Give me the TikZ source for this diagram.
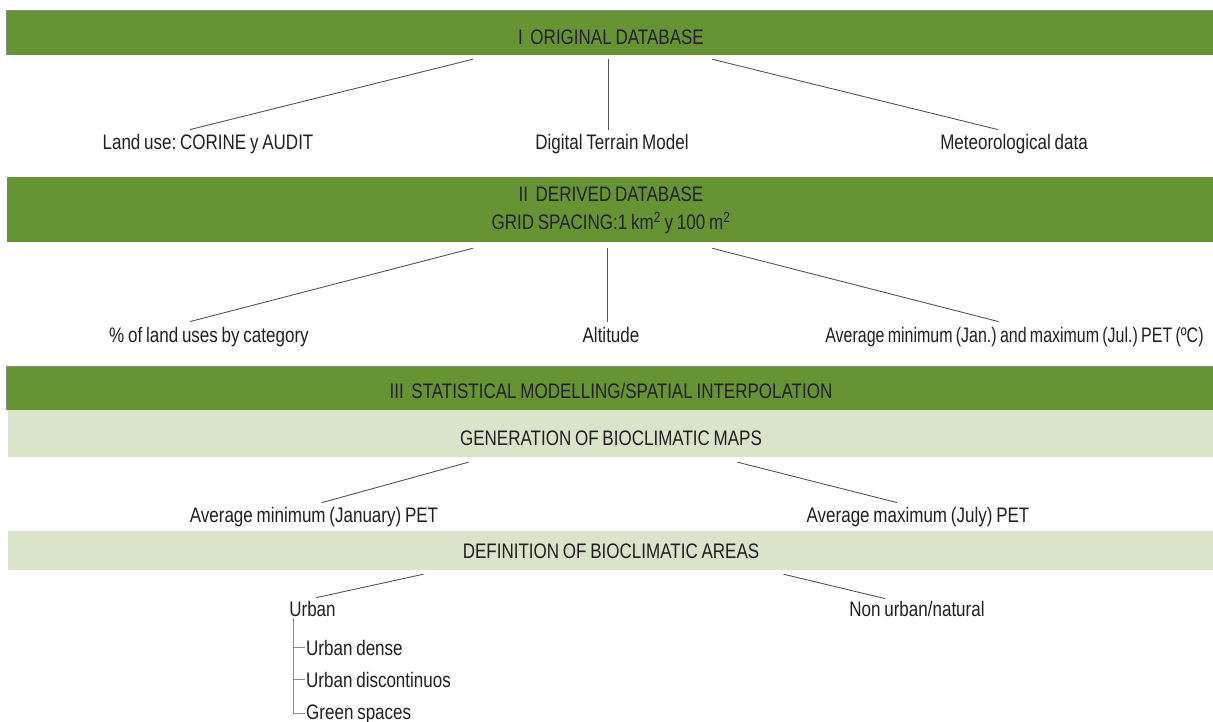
\documentclass[tikz,border=0pt]{standalone}
\usepackage{fontspec}
\setmainfont{Liberation Sans}[FakeStretch=0.81, WordSpace=0.8]
\newfontfamily\narrowfont{Liberation Sans}[FakeStretch=0.76, WordSpace=0.75]
\usepackage{xcolor}
\usepackage{tikz}
\usetikzlibrary{positioning}
\frenchspacing

\definecolor{bargreen}{RGB}{102,148,50}
\definecolor{barlight}{RGB}{217,228,203}
\definecolor{txtgray}{RGB}{35,31,32}
\definecolor{linegray}{RGB}{85,85,85}
\definecolor{edgegray}{RGB}{140,140,140}

\tikzset{
  darkbar/.style={rectangle, fill=bargreen, minimum width=1206pt, inner sep=0pt},
  lightbar/.style={rectangle, fill=barlight, minimum width=1205pt, inner sep=0pt},
  item/.style={text=txtgray, inner sep=1pt, anchor=base},
  branch/.style={draw=linegray, line width=0.9pt},
  treeline/.style={draw=edgegray, line width=0.9pt},
}

\begin{document}
\begin{tikzpicture}[x=1pt, y=-1pt, font=\fontsize{21}{26}\selectfont]
    \useasboundingbox[fill=white] (0,0) rectangle (1213,722);

    % I
    \node[darkbar, minimum height=44pt] (orig) at (610,33) {};
    \draw[edgegray, line width=1.2pt] (orig.south west) |- (orig.north east);
    \node[item] (origtxt) at (611,45) {I~~ORIGINAL DATABASE};

    \node[item] (landuse) at (208,150) {Land use: CORINE y AUDIT};
    \node[item] (dtm) at (612,150) {Digital Terrain Model};
    \node[item] (meteo) at (1014,150) {Meteorological data};

    \draw[branch] ([xshift=-137pt,yshift=-4pt]orig.south) -- ([xshift=-18pt,yshift=4pt]landuse.north);
    \draw[branch] ([xshift=-2pt,yshift=-4pt]orig.south) -- ([xshift=-4pt,yshift=4pt]dtm.north);
    \draw[branch] ([xshift=102pt,yshift=-4pt]orig.south) -- ([xshift=-16pt,yshift=4pt]meteo.north);

    % II
    \node[darkbar, minimum height=65pt] (derived) at (610,209.5) {};
    \node[item] (derivedtxt) at (611,202) {II~~DERIVED DATABASE};
    \node[item] (gridtxt) at (611,230) {GRID SPACING:1 km\textsuperscript{2} y 100 m\textsuperscript{2}};

    \node[item] (landpct) at (209,342) {\% of land uses by category};
    \node[item] (alt) at (611,342) {Altitude};
    \node[item, font=\fontsize{21}{26}\narrowfont] (pet) at (1014.5,342) {Average minimum (Jan.) and maximum (Jul.) PET (ºC)};

    \draw[branch] ([xshift=-137pt,yshift=-6pt]derived.south) -- ([xshift=-19pt,yshift=4pt]landpct.north);
    \draw[branch] ([xshift=-3pt,yshift=-6pt]derived.south) -- ([xshift=-4pt,yshift=4pt]alt.north);
    \draw[branch] ([xshift=102pt,yshift=-6pt]derived.south) -- ([xshift=-16pt,yshift=4pt]pet.north);

    % III
    \node[darkbar, minimum height=43pt] (model) at (610,388.5) {};
    \draw[edgegray, line width=1.2pt] (model.south west) |- (model.north east);
    \node[item] (modeltxt) at (611,398) {III~~STATISTICAL MODELLING/SPATIAL INTERPOLATION};

    \node[lightbar, minimum height=47pt] (maps) at (610.5,433.5) {};
    \node[item] (mapstxt) at (611,445) {GENERATION OF BIOCLIMATIC MAPS};

    \node[item] (petjan) at (314,522) {Average minimum (January) PET};
    \node[item] (petjul) at (918,522) {Average maximum (July) PET};

    \draw[branch] ([xshift=-142pt,yshift=-5pt]maps.south) -- ([xshift=8pt,yshift=3pt]petjan.north);
    \draw[branch] ([xshift=127pt,yshift=-5pt]maps.south) -- ([xshift=-21pt,yshift=3pt]petjul.north);

    \node[lightbar, minimum height=39pt] (areas) at (610.5,550.5) {};
    \node[item] (areastxt) at (611,558) {DEFINITION OF BIOCLIMATIC AREAS};

    \node[item] (urban) at (312.5,616) {Urban};
    \node[item] (nonurban) at (917,616) {Non urban/natural};

    \draw[branch] ([xshift=-187pt,yshift=-4pt]areas.south) -- ([xshift=4pt,yshift=2pt]urban.north);
    \draw[branch] ([xshift=173pt,yshift=-4pt]areas.south) -- ([xshift=-32pt,yshift=1pt]nonurban.north);

    % urban classes
    \node[item, anchor=base west] (dense) at (305,655) {Urban dense};
    \node[item, anchor=base west] (discont) at (305,687) {Urban discontinuos};
    \node[item, anchor=base west] (green) at (305,719) {Green spaces};

    \coordinate (stem) at ([xshift=5pt,yshift=-1pt]urban.south west);
    \draw[treeline] (stem) |- (green.west);
    \draw[treeline] (dense.west -| stem) -- (dense.west);
    \draw[treeline] (discont.west -| stem) -- (discont.west);
\end{tikzpicture}
\end{document}
